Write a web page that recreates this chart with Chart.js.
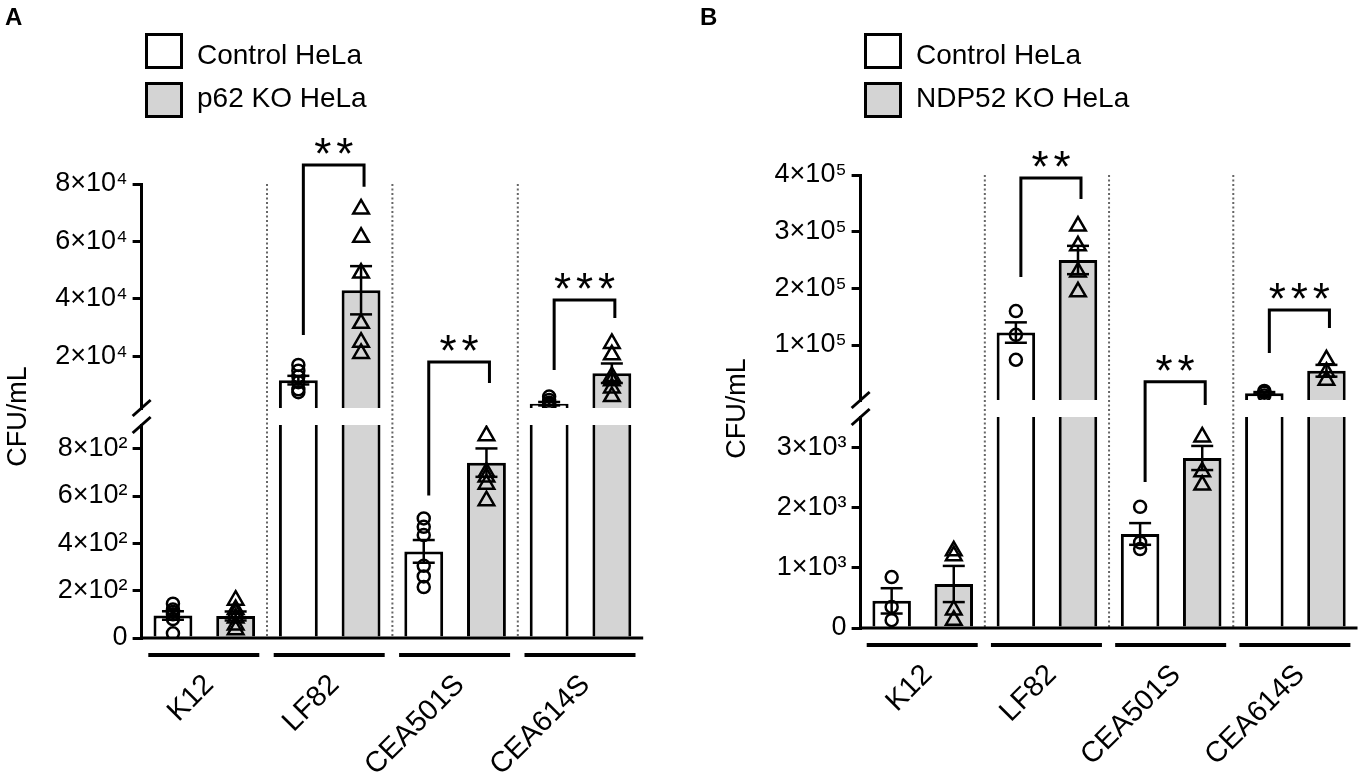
<!DOCTYPE html>
<html>
<head>
<meta charset="utf-8">
<title>CFU/mL in control, p62 KO and NDP52 KO HeLa</title>
<script src="https://cdn.jsdelivr.net/npm/chart.js@4.4.1/dist/chart.umd.min.js"></script>
<style>
  html, body { margin: 0; padding: 0; background: #fff; }
  #wrap { position: relative; width: 1369px; height: 780px; }
  #wrap canvas { position: absolute; left: 0; top: 0; }
</style>
</head>
<body>
<div id="wrap">
  <canvas id="chartA" width="1369" height="780"></canvas>
  <canvas id="chartB" width="1369" height="780"></canvas>
</div>
<script>
(function () {
  "use strict";

  // ---- values ----
  const groups = ["K12", "LF82", "CEA501S", "CEA614S"];

  // Panel A: control vs p62 KO HeLa
  const p62Series = ["Control HeLa", "p62 KO HeLa"];
  const p62CtrlMean = [95, 11700, 366, 3500];
  const p62CtrlSem = [18, 1500, 48, 600];
  const p62KoMean = [93, 43000, 741, 14100];
  const p62KoSem = [19, 8400, 60, 3400];
  const p62CtrlPts = [
    [145, 120, 110, 100, 80, 20],
    [17000, 15000, 13000, 11000, 8500, 7500],
    [505, 470, 435, 305, 260, 215],
    [6000, 4800, 3800, 3200, 2600, 2400]
  ];
  const p62KoPts = [
    [160, 120, 105, 85, 55, 35],
    [71300, 61500, 49000, 31500, 24900, 21000],
    [965, 855, 700, 680, 650, 580],
    [24500, 20500, 13000, 11500, 9000, 6000]
  ];
  const p62Stars = ["", "**", "**", "***"];
  const p62LowRange = [0, 900];
  const p62HighRange = [2000, 80000];
  const p62LowTicks = [0, 200, 400, 600, 800];
  const p62LowLabels = ["0", "2×10²", "4×10²", "6×10²", "8×10²"];
  const p62HighTicks = [20000, 40000, 60000, 80000];
  const p62HighLabels = ["2×10⁴", "4×10⁴", "6×10⁴", "8×10⁴"];

  // Panel B: control vs NDP52 KO HeLa
  const ndpSeries = ["Control HeLa", "NDP52 KO HeLa"];
  const ndpCtrlMean = [450, 122000, 1560, 15000];
  const ndpCtrlSem = [210, 18000, 180, 2000];
  const ndpKoMean = [730, 250000, 2820, 54600];
  const ndpKoSem = [300, 25000, 200, 10400];
  const ndpCtrlPts = [
    [845, 350, 130],
    [160000, 118000, 74000],
    [2010, 1420, 1310],
    [19000, 16000, 11000]
  ];
  const ndpKoPts = [
    [1280, 1200, 300, 130],
    [310000, 275000, 229000, 194000],
    [3170, 2590, 2370],
    [74000, 52000, 38000]
  ];
  const ndpStars = ["", "**", "**", "***"];
  const ndpLowRange = [0, 3500];
  const ndpHighRange = [3000, 400000];
  const ndpLowTicks = [0, 1000, 2000, 3000];
  const ndpLowLabels = ["0", "1×10³", "2×10³", "3×10³"];
  const ndpHighTicks = [100000, 200000, 300000, 400000];
  const ndpHighLabels = ["1×10⁵", "2×10⁵", "3×10⁵", "4×10⁵"];

  // significance brackets: value positions on the two axis segments
  const p62Brackets = [
    { group: 1, top: ["yHi", 86600], left: ["yHi", 27400], right: ["yHi", 79000] },
    { group: 2, top: ["yHi", 18000], left: ["yLo", 602], right: ["yHi", 10700] },
    { group: 3, top: ["yHi", 39600], left: ["yHi", 15200], right: ["yHi", 33300] }
  ];
  const ndpBrackets = [
    { group: 1, top: ["yHi", 394700], left: ["yHi", 220100], right: ["yHi", 357700] },
    { group: 2, top: ["yHi", 35000], left: ["yLo", 2420], right: ["yLo", 3700] },
    { group: 3, top: ["yHi", 161900], left: ["yHi", 86100], right: ["yHi", 130200] }
  ];

  // ---- styling ----
  const INK = "#000000";
  const CTRL_FILL = "#ffffff";
  const KO_FILL = "#d4d4d4";
  const FONT = "'Liberation Sans', Arimo, Arial, sans-serif";
  const AXIS_W = 140;      // fixed width of the y axis boxes
  const CAP = 11;          // half width of error bar caps

  Chart.defaults.font.family = FONT;
  Chart.defaults.color = INK;

  function line(ctx, x1, y1, x2, y2) {
    ctx.beginPath();
    ctx.moveTo(x1, y1);
    ctx.lineTo(x2, y2);
    ctx.stroke();
  }

  function buildPanel(p, lay) {
    const slots = [], mean = [], sem = [], pts = [];
    groups.forEach(function (g, k) {
      slots.push(g + " " + p.series[0], g + " " + p.series[1]);
      mean.push(p.ctrlMean[k], p.koMean[k]);
      sem.push(p.ctrlSem[k], p.koSem[k]);
      pts.push(p.ctrlPts[k], p.koPts[k]);
    });
    const lowMax = p.lowRange[1];
    const highMin = p.highRange[0];
    const axisOf = mean.map(m => (m <= lowMax ? "yLo" : "yHi"));
    const fills = slots.map((s, i) => (i % 2 ? KO_FILL : CTRL_FILL));

    // individual replicates, split by series and axis segment
    const pointSets = [];
    ["yLo", "yHi"].forEach(function (ax) {
      [0, 1].forEach(function (kind) {
        const data = [];
        pts.forEach(function (list, i) {
          if (i % 2 !== kind || axisOf[i] !== ax) return;
          list.forEach(v => data.push({ x: slots[i], y: v }));
        });
        pointSets.push({
          type: "scatter",
          label: p.series[kind],
          data: data,
          yAxisID: ax,
          order: 1,
          pointStyle: kind ? "triangle" : "circle",
          pointRadius: kind ? 9 : 6,
          borderColor: INK,
          borderWidth: 2.5,
          backgroundColor: "rgba(0,0,0,0)"
        });
      });
    });

    const lowBars = {
      type: "bar",
      label: "mean (lower segment)",
      data: mean.map(m => Math.min(m, lowMax)),
      yAxisID: "yLo",
      order: 2,
      grouped: false,
      barPercentage: 0.62,
      categoryPercentage: 1,
      backgroundColor: fills,
      borderColor: INK,
      borderSkipped: false,
      borderWidth: ctx => ({ left: 3, right: 3, bottom: 0, top: axisOf[ctx.dataIndex] === "yLo" ? 3 : 0 })
    };
    const highBars = {
      type: "bar",
      label: "mean (upper segment)",
      data: mean.map((m, i) => (axisOf[i] === "yHi" ? [highMin, m] : null)),
      yAxisID: "yHi",
      order: 2,
      grouped: false,
      barPercentage: 0.62,
      categoryPercentage: 1,
      backgroundColor: fills,
      borderColor: INK,
      borderSkipped: false,
      borderWidth: { left: 3, right: 3, top: 3, bottom: 0 }
    };

    const tickGrid = { display: true, drawOnChartArea: false, drawTicks: true, tickLength: 9, color: INK, lineWidth: 3 };
    const axisBorder = { display: true, color: INK, width: 3 };
    const tickFont = { size: 27 };

    const decor = {
      id: "decor" + p.letter,
      beforeDatasetsDraw(chart) {
        const { ctx, chartArea } = chart;
        const xs = chart.scales.x;
        const base = chart.scales.yLo.getPixelForValue(0);
        ctx.save();
        ctx.strokeStyle = "#666666";
        ctx.lineWidth = 2;
        ctx.setLineDash([2, 2.5]);
        for (let k = 1; k < groups.length; k++) {
          const x = (xs.getPixelForValue(2 * k - 1) + xs.getPixelForValue(2 * k)) / 2;
          line(ctx, x, chartArea.top, x, base);
        }
        ctx.restore();
      },
      afterDatasetsDraw(chart) {
        const { ctx, chartArea } = chart;
        const xs = chart.scales.x, yLo = chart.scales.yLo, yHi = chart.scales.yHi;
        const base = yLo.getPixelForValue(0);
        ctx.save();
        ctx.strokeStyle = INK;
        ctx.lineCap = "butt";

        // mean ± SEM
        ctx.lineWidth = 2.5;
        mean.forEach(function (m, i) {
          const ys = chart.scales[axisOf[i]];
          const x = xs.getPixelForValue(i);
          const yt = ys.getPixelForValue(m + sem[i]);
          const yb = ys.getPixelForValue(m - sem[i]);
          line(ctx, x, yt, x, yb);
          line(ctx, x - CAP, yt, x + CAP, yt);
          line(ctx, x - CAP, yb, x + CAP, yb);
        });

        // x baseline and group underlines
        ctx.lineWidth = 3;
        line(ctx, chartArea.left - 1.5, base, chartArea.right, base);
        ctx.lineWidth = 4;
        for (let k = 0; k < groups.length; k++) {
          const c = (xs.getPixelForValue(2 * k) + xs.getPixelForValue(2 * k + 1)) / 2;
          line(ctx, c - 56, base + 17, c + 55, base + 17);
        }

        // axis break marks
        ctx.lineWidth = 3;
        [yHi.bottom, yLo.top].forEach(y => line(ctx, chartArea.left - 9, y + 8, chartArea.left + 9, y - 8));

        // significance brackets
        ctx.lineWidth = 3;
        ctx.fillStyle = INK;
        ctx.font = "44px " + FONT;
        ctx.textAlign = "center";
        ctx.textBaseline = "alphabetic";
        p.brackets.forEach(function (b) {
          const x1 = xs.getPixelForValue(2 * b.group) + 5;
          const x2 = xs.getPixelForValue(2 * b.group + 1) + 3;
          const yt = chart.scales[b.top[0]].getPixelForValue(b.top[1]);
          const yl = chart.scales[b.left[0]].getPixelForValue(b.left[1]);
          const yr = chart.scales[b.right[0]].getPixelForValue(b.right[1]);
          ctx.beginPath();
          ctx.moveTo(x1, yl);
          ctx.lineTo(x1, yt);
          ctx.lineTo(x2, yt);
          ctx.lineTo(x2, yr);
          ctx.stroke();
          const stars = p.stars[b.group];
          const mid = (x1 + x2) / 2;
          for (let s = 0; s < stars.length; s++) {
            const sx = mid + (s - (stars.length - 1) / 2) * 22;
            ctx.fillText(stars[s], sx, yt - 21 + 25);
          }
        });
        ctx.restore();
      },
      afterDraw(chart) {
        const ctx = chart.ctx;
        ctx.save();
        // legend
        ctx.lineWidth = 3;
        ctx.strokeStyle = INK;
        p.series.forEach(function (name, k) {
          const y = [34.5, 83.5][k];
          ctx.fillStyle = k ? KO_FILL : CTRL_FILL;
          ctx.fillRect(lay.legendX + 1.5, y, 35, 33);
          ctx.strokeRect(lay.legendX + 1.5, y, 35, 33);
          ctx.fillStyle = INK;
          ctx.font = "28px " + FONT;
          ctx.textAlign = "left";
          ctx.textBaseline = "alphabetic";
          ctx.fillText(name, lay.legendX + 52, [64, 107][k]);
        });
        // panel letter
        ctx.font = "bold 24px " + FONT;
        ctx.fillText(p.letter, lay.letterX, 25);
        ctx.restore();
      }
    };

    return new Chart(document.getElementById(lay.canvas), {
      type: "bar",
      data: {
        labels: slots,
        datasets: pointSets.concat([lowBars, highBars])
      },
      options: {
        responsive: false,
        animation: false,
        events: [],
        layout: { padding: lay.padding },
        plugins: { legend: { display: false }, tooltip: { enabled: false } },
        scales: {
          x: { type: "category", labels: slots, offset: true, display: false },
          xg: {
            type: "category",
            labels: groups,
            offset: true,
            position: "bottom",
            grid: { display: false, drawTicks: false },
            border: { display: false },
            ticks: { font: { size: 29 }, color: INK, minRotation: 45, maxRotation: 45, autoSkip: false, padding: 30, labelOffset: 5 },
            afterFit: s => { s.height = lay.xlabH; }
          },
          yHi: {
            type: "linear",
            position: "left",
            stack: "v",
            stackWeight: lay.stack[0],
            weight: 3,
            min: p.highRange[0],
            max: p.highRange[1],
            afterBuildTicks: s => { s.ticks = p.highTicks.map(v => ({ value: v })); },
            afterFit: s => { s.width = AXIS_W; },
            ticks: { font: tickFont, color: INK, padding: 5, autoSkip: false, callback: v => p.highLabels[p.highTicks.indexOf(v)] },
            grid: tickGrid,
            border: axisBorder
          },
          yGap: {
            type: "linear",
            position: "left",
            stack: "v",
            stackWeight: lay.stack[1],
            weight: 2,
            min: 0,
            max: 1,
            afterFit: s => { s.width = AXIS_W; },
            ticks: { display: false },
            grid: { display: false },
            border: { display: false },
            title: { display: true, text: "CFU/mL", font: { size: 27 }, color: INK, padding: { top: 1, bottom: 0 } }
          },
          yLo: {
            type: "linear",
            position: "left",
            stack: "v",
            stackWeight: lay.stack[2],
            weight: 1,
            min: p.lowRange[0],
            max: p.lowRange[1],
            afterBuildTicks: s => { s.ticks = p.lowTicks.map(v => ({ value: v })); },
            afterFit: s => { s.width = AXIS_W; },
            ticks: { font: tickFont, color: INK, padding: 5, autoSkip: false, callback: v => p.lowLabels[p.lowTicks.indexOf(v)] },
            grid: tickGrid,
            border: axisBorder
          }
        }
      },
      plugins: [decor]
    });
  }

  document.addEventListener("DOMContentLoaded", function () {
    buildPanel({
      letter: "A", series: p62Series,
      ctrlMean: p62CtrlMean, ctrlSem: p62CtrlSem, koMean: p62KoMean, koSem: p62KoSem,
      ctrlPts: p62CtrlPts, koPts: p62KoPts, stars: p62Stars, brackets: p62Brackets,
      lowRange: p62LowRange, highRange: p62HighRange,
      lowTicks: p62LowTicks, lowLabels: p62LowLabels, highTicks: p62HighTicks, highLabels: p62HighLabels
    }, {
      canvas: "chartA",
      padding: { left: 1.6, right: 725.8, top: 184, bottom: 0 },
      xlabH: 142,
      stack: [224, 17, 213],
      legendX: 145,
      letterX: 5
    });

    buildPanel({
      letter: "B", series: ndpSeries,
      ctrlMean: ndpCtrlMean, ctrlSem: ndpCtrlSem, koMean: ndpKoMean, koSem: ndpKoSem,
      ctrlPts: ndpCtrlPts, koPts: ndpKoPts, stars: ndpStars, brackets: ndpBrackets,
      lowRange: ndpLowRange, highRange: ndpHighRange,
      lowTicks: ndpLowTicks, lowLabels: ndpLowLabels, highTicks: ndpHighTicks, highLabels: ndpHighLabels
    }, {
      canvas: "chartB",
      padding: { left: 720.6, right: 6.6, top: 175, bottom: 0 },
      xlabH: 152,
      stack: [225, 17, 211],
      legendX: 864,
      letterX: 700
    });
  });
})();
</script>
</body>
</html>
